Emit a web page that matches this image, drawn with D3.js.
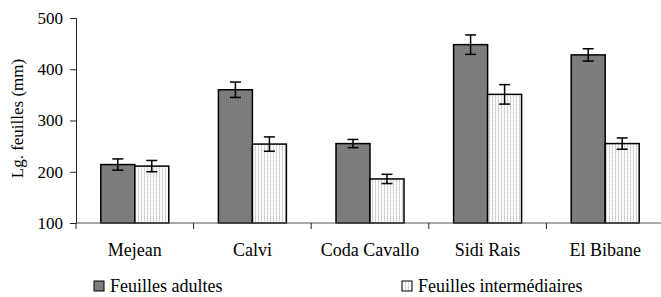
<!DOCTYPE html>
<html>
<head>
<meta charset="utf-8">
<script src="https://cdn.jsdelivr.net/npm/d3@7"></script>
<style>
    body { margin: 0; background: #fff; }
    svg text { font-family: "Liberation Serif", "Times New Roman", Times, "Tinos", "DejaVu Serif", serif !important; fill: #000; }
</style>
</head>
<body>
<div id="chart"></div>
<script>
const categories = ['Mejean', 'Calvi', 'Coda Cavallo', 'Sidi Rais', 'El Bibane'];
const series = ['Feuilles adultes', 'Feuilles intermédiaires'];
const adultes = [214, 360, 255, 448, 428];
const adultesErr = [11, 15, 8, 19, 12];
const intermediaires = [211, 254, 186, 351, 255];
const intermediairesErr = [11, 14, 9, 19, 11];
const yTicks = [100, 200, 300, 400, 500];

const values = [adultes, intermediaires];
const errors = [adultesErr, intermediairesErr];

const rows = [];
categories.forEach((c, i) => {
    series.forEach((s, j) => {
        rows.push({ cat: c, serie: s, idx: j, value: values[j][i], err: errors[j][i] });
    });
});

const width = 661, height = 297;
const margin = { top: 18, right: -3, bottom: 74, left: 76 };
const serif = '"Liberation Serif", "Times New Roman", Times, serif';

const svg = d3.select('#chart').append('svg')
    .attr('width', width)
    .attr('height', height)
    .attr('font-family', serif);

// fill patterns
const defs = svg.append('defs');
const pDark = defs.append('pattern')
    .attr('id', 'pat-dark')
    .attr('patternUnits', 'userSpaceOnUse')
    .attr('width', 2).attr('height', 2);
pDark.append('rect').attr('width', 2).attr('height', 2).attr('fill', '#808080');
pDark.append('rect').attr('width', 1).attr('height', 1).attr('fill', '#727272');

const pLight = defs.append('pattern')
    .attr('id', 'pat-light')
    .attr('patternUnits', 'userSpaceOnUse')
    .attr('width', 3).attr('height', 2);
pLight.append('rect').attr('width', 3).attr('height', 2).attr('fill', '#fafafa');
pLight.append('rect').attr('width', 1).attr('height', 1).attr('fill', '#c8c8c8');
pLight.append('rect').attr('y', 1).attr('width', 1).attr('height', 1).attr('fill', '#dedede');

const fills = ['url(#pat-dark)', 'url(#pat-light)'];

const x = d3.scaleBand()
    .domain(categories)
    .range([margin.left, width - margin.right]);

const xSub = d3.scaleBand()
    .domain(series)
    .range([0, x.bandwidth()])
    .paddingOuter(0.73);

const y = d3.scaleLinear()
    .domain([100, 500])
    .range([height - margin.bottom, margin.top]);

// y axis
const yAxis = d3.axisLeft(y)
    .tickValues(yTicks)
    .tickSize(6)
    .tickPadding(7);
const yG = svg.append('g')
    .attr('transform', `translate(${margin.left},0)`)
    .call(yAxis)
    .attr('font-family', serif)
    .attr('font-size', 17);
yG.select('.domain').attr('stroke', '#222');
yG.selectAll('.tick line').attr('stroke', '#222');

// bars
svg.append('g').selectAll('rect')
    .data(rows)
    .join('rect')
    .attr('x', d => x(d.cat) + xSub(d.serie))
    .attr('y', d => y(d.value))
    .attr('width', xSub.bandwidth())
    .attr('height', d => y(100) - y(d.value))
    .attr('fill', d => fills[d.idx])
    .attr('stroke', '#000')
    .attr('stroke-width', 1.5);

// x axis (drawn after bars so the baseline sits on top)
const xG = svg.append('g')
    .attr('transform', `translate(0,${y(100)})`);
xG.append('line')
    .attr('x1', margin.left).attr('x2', width + 3)
    .attr('stroke', '#555');
const bounds = categories.map(c => x(c)).concat([x(categories[categories.length - 1]) + x.bandwidth()]);
xG.selectAll('.xt')
    .data(bounds)
    .join('line')
    .attr('class', 'xt')
    .attr('x1', d => d).attr('x2', d => d)
    .attr('y1', 0).attr('y2', 6)
    .attr('stroke', '#222');
xG.selectAll('.xl')
    .data(categories)
    .join('text')
    .attr('class', 'xl')
    .attr('x', d => x(d) + x.bandwidth() / 2)
    .attr('y', 33)
    .attr('text-anchor', 'middle')
    .attr('font-size', 18)
    .text(d => d);

// error bars
const eb = svg.append('g')
    .attr('stroke', '#000')
    .attr('stroke-width', 1.5);
const cx = d => x(d.cat) + xSub(d.serie) + xSub.bandwidth() / 2;
eb.selectAll('.v')
    .data(rows)
    .join('line')
    .attr('x1', cx).attr('x2', cx)
    .attr('y1', d => y(d.value + d.err))
    .attr('y2', d => y(d.value - d.err));
['top', 'bot'].forEach(k => {
    eb.selectAll('.' + k)
        .data(rows)
        .join('line')
        .attr('class', k)
        .attr('x1', d => cx(d) - 5.5).attr('x2', d => cx(d) + 5.5)
        .attr('y1', d => y(k === 'top' ? d.value + d.err : d.value - d.err))
        .attr('y2', d => y(k === 'top' ? d.value + d.err : d.value - d.err));
});

// y label
svg.append('text')
    .attr('transform', `translate(23,${(margin.top + y(100)) / 2 - 2}) rotate(-90)`)
    .attr('text-anchor', 'middle')
    .attr('font-size', 17)
    .text('Lg. feuilles (mm)');

// legend
const legendX = [94, 402];
const lg = svg.append('g').selectAll('g')
    .data(series)
    .join('g')
    .attr('transform', (d, i) => `translate(${legendX[i]},281)`);
lg.append('rect')
    .attr('width', 10).attr('height', 10)
    .attr('fill', (d, i) => fills[i])
    .attr('stroke', '#000')
    .attr('stroke-width', 1);
lg.append('text')
    .attr('x', 16)
    .attr('y', 11)
    .attr('font-size', 18)
    .text(d => d);
</script>
</body>
</html>
